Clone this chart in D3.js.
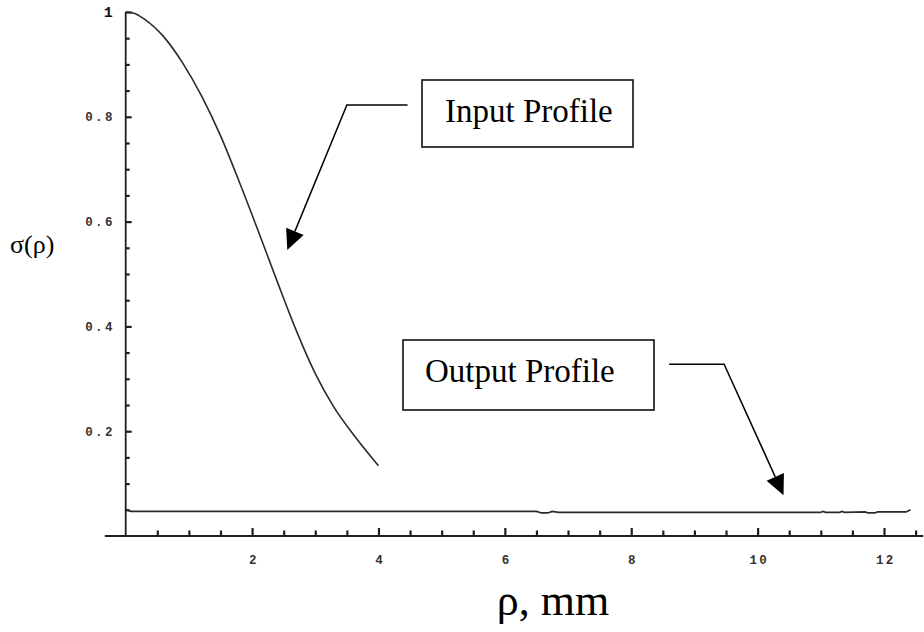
<!DOCTYPE html>
<html>
<head>
<meta charset="utf-8">
<script src="https://cdn.jsdelivr.net/npm/d3@7/dist/d3.min.js"></script>
<style>
  html, body { margin: 0; padding: 0; background: #fff; }
  svg { display: block; }
</style>
</head>
<body>
<svg id="chart" width="924" height="632"></svg>
<script>
// ---------- data ----------
const inputX = [0, 0.12, 0.3, 0.6, 0.9, 1.2, 1.5, 1.8, 2.1, 2.4, 2.7, 3.0, 3.3, 3.6, 4.0];
const inputY = [1.0, 0.998, 0.986, 0.953, 0.903, 0.840, 0.764, 0.675, 0.581, 0.485, 0.392, 0.310, 0.245, 0.194, 0.134];

const outputX = [0, 0.08, 6.50, 6.58, 6.68, 6.75, 6.85, 11.00, 11.03, 11.08, 11.30, 11.33, 11.38, 11.70, 11.75, 11.85, 11.90, 12.35, 12.42];
const outputY = [0.051, 0.047, 0.047, 0.044, 0.044, 0.047, 0.045, 0.045, 0.047, 0.045, 0.045, 0.047, 0.045, 0.046, 0.044, 0.044, 0.046, 0.046, 0.050];

const xTicks = [2, 4, 6, 8, 10, 12];
const xTickLabels = ["2", "4", "6", "8", "10", "12"];
const yTicks = [0.2, 0.4, 0.6, 0.8, 1];
const yTickLabels = ["0.2", "0.4", "0.6", "0.8", "1"];

const annotations = [
  { text: "Input Profile",  path: [[4.46, 0.8225], [3.50, 0.8225], [2.557, 0.546]] },
  { text: "Output Profile", path: [[8.60, 0.328], [9.47, 0.328], [10.41, 0.078]] }
];

// ---------- layout ----------
const svg = d3.select("#chart");
const x = d3.scaleLinear().domain([0, 12]).range([125.7, 884]);
const y = d3.scaleLinear().domain([0, 1]).range([536, 12]);
const ink = "#1f1f1f";
const monoFont = "Liberation Mono, DejaVu Sans Mono, monospace";
const serifFont = "Liberation Serif, Times New Roman, serif";

const xMinor = d3.range(0.5, 12.51, 0.5).filter(v => Math.abs(v % 2) > 1e-6);
const yMinor = d3.range(0.05, 1.001, 0.05).filter(v => Math.round(v * 100) % 20 !== 0);

// x axis: ticks drawn by d3.axis (pointing up into the plot)
const y0 = y(0);
svg.append("g").attr("transform", `translate(0,${y0})`)
  .call(d3.axisBottom(x).tickValues(xMinor).tickSize(-5.5).tickFormat("").tickSizeOuter(0))
  .call(g => g.select(".domain").remove())
  .call(g => g.selectAll(".tick line").attr("stroke", ink).attr("stroke-width", 2.2));
svg.append("g").attr("transform", `translate(0,${y0})`)
  .call(d3.axisBottom(x).tickValues(xTicks).tickSize(-8).tickPadding(19)
        .tickFormat((d, i) => xTickLabels[i]).tickSizeOuter(0))
  .call(g => g.select(".domain").remove())
  .call(g => g.selectAll(".tick line").attr("stroke", ink).attr("stroke-width", 2.2))
  .call(g => g.selectAll(".tick text")
    .attr("dx", 1.2)
    .attr("font-family", monoFont).attr("font-weight", "bold")
    .attr("font-size", 12.5).attr("letter-spacing", 2.3).attr("fill", "#333"));
svg.append("line")
  .attr("x1", x(-0.33)).attr("x2", x(12.62)).attr("y1", y0).attr("y2", y0)
  .attr("stroke", ink).attr("stroke-width", 1.8);

// y axis
const x0 = x(0);
svg.append("g").attr("transform", `translate(${x0},0)`)
  .call(d3.axisLeft(y).tickValues(yMinor).tickSize(-4).tickFormat("").tickSizeOuter(0))
  .call(g => g.select(".domain").remove())
  .call(g => g.selectAll(".tick line").attr("stroke", ink).attr("stroke-width", 2.2));
svg.append("g").attr("transform", `translate(${x0},0)`)
  .call(d3.axisLeft(y).tickValues(yTicks).tickSize(-6).tickPadding(11)
        .tickFormat((d, i) => yTickLabels[i]).tickSizeOuter(0))
  .call(g => g.select(".domain").remove())
  .call(g => g.selectAll(".tick line").attr("stroke", ink).attr("stroke-width", 2.2))
  .call(g => g.selectAll(".tick text")
    .attr("font-family", monoFont).attr("font-weight", "bold")
    .attr("font-size", d => d === 1 ? 15 : 12.5)
    .attr("letter-spacing", d => d === 1 ? 0 : 2.3)
    .attr("dx", d => d === 1 ? -2 : 0)
    .attr("fill", d => d === 1 ? "#111" : "#333"));
svg.append("line")
  .attr("x1", x0).attr("x2", x0).attr("y1", y0 + 1).attr("y2", y(1))
  .attr("stroke", ink).attr("stroke-width", 1.8);

// curves
svg.append("path")
  .datum(inputX.map((v, i) => [v, inputY[i]]))
  .attr("d", d3.line().x(d => x(d[0])).y(d => y(d[1])).curve(d3.curveMonotoneX))
  .attr("fill", "none").attr("stroke", "#2a2a2a").attr("stroke-width", 1.6);
svg.append("path")
  .datum(outputX.map((v, i) => [v, outputY[i]]))
  .attr("d", d3.line().x(d => x(d[0])).y(d => y(d[1])))
  .attr("fill", "none").attr("stroke", "#2a2a2a").attr("stroke-width", 1.7);

// axis titles
svg.append("text")
  .attr("x", 10).attr("y", 253)
  .attr("font-family", serifFont)
  .attr("font-size", 26).attr("fill", "#000")
  .text("σ(ρ)");
svg.append("text")
  .attr("x", 553).attr("y", 615)
  .attr("text-anchor", "middle")
  .attr("font-family", serifFont)
  .attr("font-size", 44).attr("fill", "#000")
  .text("ρ, mm");

// annotation boxes
const boxes = [
  { x: 422, y: 80, w: 211, h: 67, tx: 445, ty: 122 },
  { x: 403, y: 340, w: 251, h: 70, tx: 425, ty: 382 }
];
boxes.forEach((b, i) => {
  svg.append("rect")
    .attr("x", b.x).attr("y", b.y).attr("width", b.w).attr("height", b.h)
    .attr("fill", "#fff").attr("stroke", "#111").attr("stroke-width", 1.6);
  svg.append("text")
    .attr("x", b.tx).attr("y", b.ty)
    .attr("font-family", serifFont)
    .attr("font-size", 33).attr("fill", "#000")
    .text(annotations[i].text);
});

// arrows
annotations.forEach(a => {
  const pts = a.path.map(p => [x(p[0]), y(p[1])]);
  const tip = pts[pts.length - 1];
  const prev = pts[pts.length - 2];
  const dx = tip[0] - prev[0], dy = tip[1] - prev[1];
  const len = Math.hypot(dx, dy);
  const ux = dx / len, uy = dy / len;
  const headL = 20, headW = 9.5;
  const base = [tip[0] - ux * headL, tip[1] - uy * headL];
  const linePts = pts.slice(0, -1).concat([base]);
  svg.append("path")
    .attr("d", d3.line()(linePts))
    .attr("fill", "none").attr("stroke", "#000").attr("stroke-width", 1.5);
  const c1 = [base[0] - uy * headW, base[1] + ux * headW];
  const c2 = [base[0] + uy * headW, base[1] - ux * headW];
  svg.append("path")
    .attr("d", d3.line()([tip, c1, c2]) + "Z")
    .attr("fill", "#000");
});
</script>
</body>
</html>
